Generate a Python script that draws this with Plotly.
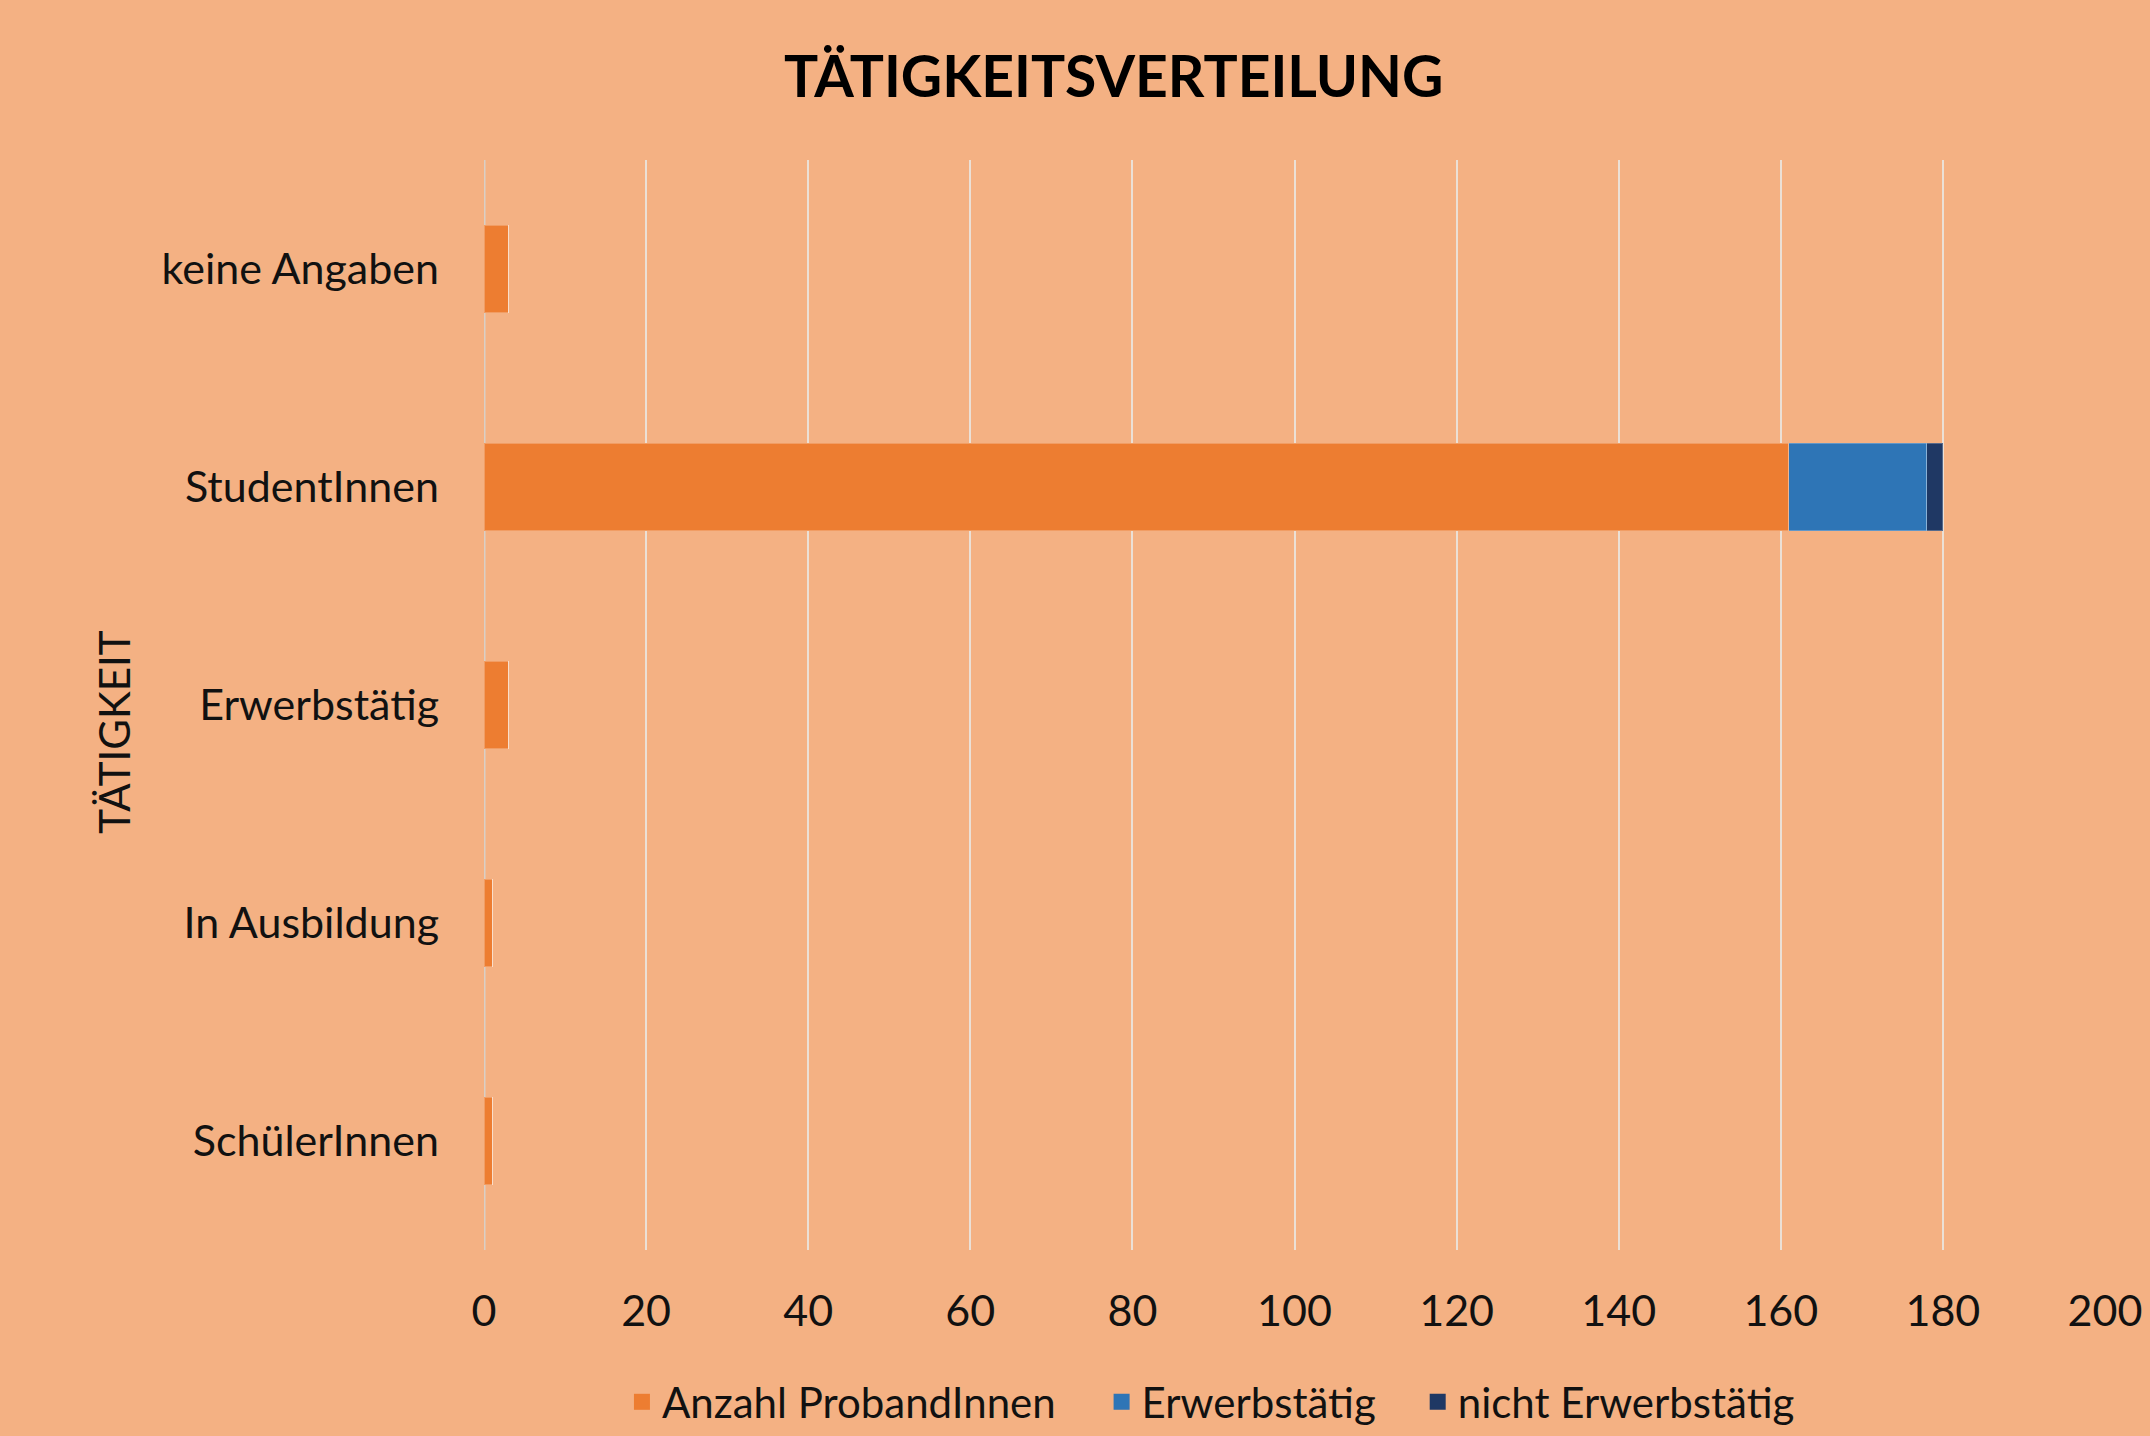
import plotly.graph_objects as go

categories = ["SchülerInnen", "In Ausbildung", "Erwerbstätig", "StudentInnen", "keine Angaben"]
anzahl = [1, 1, 3, 161, 3]
erwerbstaetig = [0, 0, 0, 17, 0]
nicht_erwerbstaetig = [0, 0, 0, 2, 0]
x_ticks = [0, 20, 40, 60, 80, 100, 120, 140, 160, 180, 200]
series_names = ["Anzahl ProbandInnen", "Erwerbstätig", "nicht Erwerbstätig"]
series_colors = ["#ED7D31", "#2E75B6", "#1F3864"]

FONT = "Lato"
BG = "#F4B183"
EDGE = dict(color="rgba(255,255,255,0.25)", width=1)

fig = go.Figure()
for vals, name, col in zip([anzahl, erwerbstaetig, nicht_erwerbstaetig], series_names, series_colors):
    fig.add_trace(go.Bar(y=categories, x=vals, orientation="h", name=name,
                         marker=dict(color=col, line=EDGE), showlegend=False))

legend_ids = ["legend", "legend2", "legend3"]
legend_x = [0.0851, 0.381, 0.576]
for name, col, lid in zip(series_names, series_colors, legend_ids):
    fig.add_trace(go.Scatter(x=[None], y=[None], mode="markers", name=name, legend=lid,
                             marker=dict(symbol="square", size=16, color=col)))

legend_common = dict(orientation="h", xanchor="left", yref="container", y=0.0, yanchor="bottom",
                     font=dict(size=42), bgcolor="rgba(0,0,0,0)", itemwidth=30, itemsizing="trace")

fig.update_layout(
    width=2150, height=1436,
    barmode="stack", bargap=0.6,
    paper_bgcolor=BG, plot_bgcolor=BG,
    font=dict(family=FONT, size=43, color="#111111"),
    margin=dict(l=484, r=45, t=160, b=186, autoexpand=False),
    title=dict(text="<b>TÄTIGKEITSVERTEILUNG</b>", x=0.518, xanchor="center", y=0.946, yanchor="middle",
               font=dict(family=FONT, size=57, color="#000000")),
    xaxis=dict(range=[0, 200], tickvals=x_ticks, showgrid=True, gridcolor="#EBE0D6", gridwidth=2,
               zeroline=False, showline=False, ticks="", tickfont=dict(size=43), ticklabelstandoff=32,
               automargin=False),
    yaxis=dict(categoryorder="array", categoryarray=categories, showgrid=False, showline=False,
               ticks="", ticklabelstandoff=44, tickfont=dict(size=43), automargin=False),
    legend=dict(x=legend_x[0], **legend_common),
    legend2=dict(x=legend_x[1], **legend_common),
    legend3=dict(x=legend_x[2], **legend_common),
    showlegend=True,
)
fig.add_annotation(text="TÄTIGKEIT", xref="paper", yref="paper", x=-0.228, y=0.475,
                   textangle=-90, showarrow=False, font=dict(family=FONT, size=42, color="#111111"),
                   xanchor="center", yanchor="middle")
fig.add_shape(type="line", xref="x", yref="paper", x0=0, x1=0, y0=0, y1=1,
              line=dict(color="#D9CFC6", width=3), layer="below")
fig.write_html("out.html", config={"displayModeBar": False},
               post_script="document.body.style.margin='0px';document.body.style.overflow='hidden';")
